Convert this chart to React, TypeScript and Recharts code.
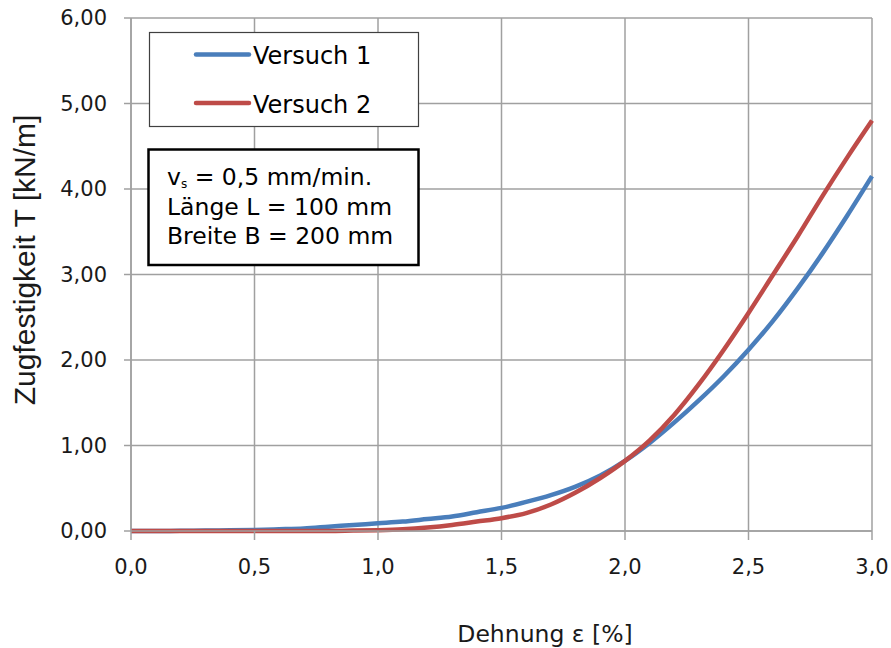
import React from "react";
import { LineChart, Line, XAxis, YAxis, CartesianGrid } from "recharts";

const strain = [0, 0.1, 0.2, 0.3, 0.4, 0.5, 0.6, 0.7, 0.8, 0.9, 1.0, 1.1, 1.2, 1.3, 1.4, 1.5, 1.6, 1.7, 1.8, 1.9, 2.0, 2.1, 2.2, 2.3, 2.4, 2.5, 2.6, 2.7, 2.8, 2.9, 3.0];
const versuch1 = [0, 0, 0.002, 0.005, 0.008, 0.012, 0.02, 0.03, 0.05, 0.07, 0.09, 0.11, 0.14, 0.17, 0.22, 0.27, 0.34, 0.42, 0.52, 0.65, 0.82, 1.03, 1.27, 1.53, 1.81, 2.12, 2.46, 2.84, 3.25, 3.69, 4.15];
const versuch2 = [0, 0, 0, 0, 0, 0, 0, 0, 0, 0.005, 0.01, 0.02, 0.04, 0.07, 0.11, 0.15, 0.21, 0.31, 0.45, 0.62, 0.82, 1.06, 1.36, 1.72, 2.12, 2.55, 3.0, 3.45, 3.92, 4.37, 4.8];
const xTicks = [0, 0.5, 1.0, 1.5, 2.0, 2.5, 3.0];
const yTicks = [0, 1, 2, 3, 4, 5, 6];
const seriesNames = ["Versuch 1", "Versuch 2"];
const colors = ["#4a7ebb", "#be4b48"];
const infoLines = ["= 0,5 mm/min.", "Länge L = 100 mm", "Breite B = 200 mm"];
const xTitle = "Dehnung ε [%]";
const yTitle = "Zugfestigkeit T [kN/m]";

const data = strain.map((x, i) => ({ x, v1: versuch1[i], v2: versuch2[i] }));

const WIDE = "'DejaVu Sans', Verdana, sans-serif";
const ARIAL = "'Liberation Sans', Arial, sans-serif";

export default function App() {
  return (
    <div style={{ position: "absolute", left: 0, top: 0, width: 891, height: 648, background: "#fff" }}>
      <LineChart
        width={891}
        height={648}
        data={data}
        margin={{ top: 18, right: 19, bottom: 0, left: 0 }}
      >
        <CartesianGrid stroke="#a0a0a0" strokeWidth={1.5} />
        <XAxis
          dataKey="x"
          type="number"
          domain={[0, 3]}
          ticks={xTicks}
          tickFormatter={(v: number) => v.toFixed(1).replace(".", ",")}
          stroke="#a0a0a0"
          strokeWidth={1.5}
          tickSize={9}
          tickMargin={19}
          tick={{ fill: "#1a1a1a", fontSize: 21, fontFamily: WIDE }}
          height={117}
          label={{
            content: () => (
              <text x={545} y={642} textAnchor="middle" fill="#1a1a1a" fontSize={23.5} fontFamily={WIDE}>
                {xTitle}
              </text>
            ),
          }}
        />
        <YAxis
          type="number"
          domain={[0, 6]}
          ticks={yTicks}
          tickFormatter={(v: number) => v.toFixed(2).replace(".", ",")}
          stroke="#a0a0a0"
          strokeWidth={1.5}
          tickSize={7}
          tickMargin={17}
          tick={{ fill: "#1a1a1a", fontSize: 21, fontFamily: WIDE }}
          width={131}
          label={{
            content: () => (
              <text x={35} y={260} textAnchor="middle" fill="#1a1a1a" fontSize={30} fontFamily={ARIAL} transform="rotate(-90 35 260)">
                {yTitle}
              </text>
            ),
          }}
        />
        <Line type="monotone" dataKey="v1" name={seriesNames[0]} stroke={colors[0]} strokeWidth={4.5} dot={false} isAnimationActive={false} />
        <Line type="monotone" dataKey="v2" name={seriesNames[1]} stroke={colors[1]} strokeWidth={4.5} dot={false} isAnimationActive={false} />
      </LineChart>
      <svg
        width={891}
        height={648}
        style={{ position: "absolute", left: 0, top: 0, pointerEvents: "none" }}
      >
        <rect x={149.5} y={32.5} width={269} height={94} fill="#fff" stroke="#404040" strokeWidth={1.2} />
        {seriesNames.map((n, i) => (
          <g key={n}>
            <line x1={196} x2={249} y1={54.5 + i * 48.5} y2={54.5 + i * 48.5} stroke={colors[i]} strokeWidth={4.5} strokeLinecap="round" />
            <text x={253} y={64 + i * 48.5} fontSize={24} fontFamily={WIDE} fill="#000">
              {n}
            </text>
          </g>
        ))}
        <rect x={148.5} y={149.5} width={270} height={115.5} fill="#fff" stroke="#000" strokeWidth={2.5} />
        <text x={167} y={185} fontSize={23.5} fontFamily={WIDE} fill="#000">
          v
          <tspan fontSize={12} dy={3}>s</tspan>
          <tspan dy={-3}> {infoLines[0]}</tspan>
        </text>
        <text x={167} y={215} fontSize={23.5} fontFamily={WIDE} fill="#000">
          {infoLines[1]}
        </text>
        <text x={167} y={244} fontSize={23.5} fontFamily={WIDE} fill="#000">
          {infoLines[2]}
        </text>
      </svg>
    </div>
  );
}
